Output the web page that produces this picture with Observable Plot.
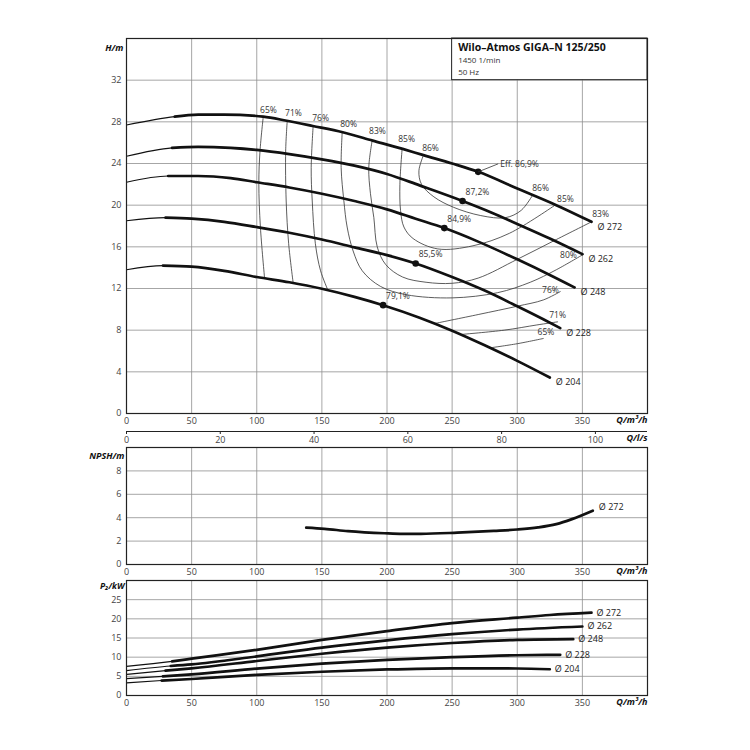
<!DOCTYPE html>
<html><head><meta charset="utf-8">
<script src="https://cdn.jsdelivr.net/npm/d3@7"></script>
<script src="https://cdn.jsdelivr.net/npm/@observablehq/plot@0.6"></script>
<style>
body{margin:0;background:#fff;}
#wrap{position:relative;width:750px;height:750px;font-family:"Open Sans",sans-serif;}
#wrap svg{position:absolute;left:0;overflow:visible;}
</style></head><body><div id="wrap"></div>
<script>
// ---------- DATA ----------
const diameters = [272, 262, 248, 228, 204];
// H-Q curves (Q in m3/h, H in m)
const hqQ272 = [0, 37, 55, 75, 105, 123, 143, 166, 189, 212, 228, 250, 270, 300, 330, 357];
const hqH272 = [27.7, 28.5, 28.7, 28.7, 28.5, 28.1, 27.6, 27.0, 26.2, 25.4, 24.8, 24.0, 23.2, 21.6, 20.0, 18.4];
const hqQ262 = [0, 35, 55, 80, 100, 125, 150, 175, 200, 225, 258, 280, 300, 325, 350];
const hqH262 = [24.7, 25.5, 25.6, 25.5, 25.3, 24.9, 24.4, 23.8, 23.0, 21.9, 20.4, 19.3, 18.2, 16.8, 15.3];
const hqQ248 = [0, 32, 55, 80, 100, 125, 150, 175, 200, 222, 244, 270, 300, 325, 344];
const hqH248 = [22.2, 22.8, 22.8, 22.6, 22.2, 21.7, 21.1, 20.4, 19.6, 18.7, 17.8, 16.5, 14.8, 13.3, 12.1];
const hqQ228 = [0, 30, 50, 75, 100, 125, 150, 175, 200, 222, 250, 275, 300, 320, 333];
const hqH228 = [18.5, 18.8, 18.7, 18.4, 17.9, 17.35, 16.7, 15.95, 15.2, 14.4, 13.1, 11.8, 10.3, 9.05, 8.2];
const hqQ204 = [0, 28, 50, 75, 100, 125, 150, 175, 197, 225, 250, 275, 300, 325];
const hqH204 = [13.8, 14.2, 14.1, 13.7, 13.1, 12.6, 11.98, 11.2, 10.4, 9.2, 7.95, 6.55, 5.05, 3.45];
const hqThickFrom = [37, 35, 32, 30, 28];

// best efficiency points
const bepQ = [270, 258, 244, 222, 197];
const bepH = [23.2, 20.4, 17.8, 14.4, 10.4];
const bepText = ["Eff. 86,9%", "87,2%", "84,9%", "85,5%", "79,1%"];

// iso-efficiency lines [Q, H]
const iso65a = [[105,28.5],[102.5,25.2],[101.6,22.1],[102.8,17.9],[106,13.0]];
const iso65b = [[279,6.3],[300,6.7],[320,7.2]];
const iso71a = [[123.4,28.1],[122.2,25.2],[122.6,20.4],[124.5,16.3],[128,12.5]];
const iso71b = [[258,7.6],[290,8.0],[315,8.5],[331,8.8]];
const iso76a = [[143.3,27.6],[141.8,23.6],[142.6,20.4],[145,16.3],[149,13.7],[154.6,11.85]];
const iso76b = [[237,8.65],[270,9.5],[300,10.3],[320,10.9],[333,11.7]];
const iso80 = [[165.6,27.0],[164.8,23.6],[166.9,20.4],[169.4,17.9],[174,15.6],[181,13.7],[195,12.2],[215,11.4],[250,11.1],[285,11.6],[310,12.6],[330,13.8],[351,15.3]];
const iso83 = [[188.6,26.2],[186,23.6],[187.3,21.1],[189.9,18.8],[192.5,16.0],[199,14.3],[212,13.1],[230,12.6],[250,12.5],[270,13.0],[300,14.8],[330,16.7],[357,18.4]];
const iso85 = [[211.6,25.4],[209.9,22.0],[210.4,19.5],[213,17.9],[220,16.8],[239,15.8],[266,16.1],[294,17.3],[329,20.0]];
const iso86 = [[228,24.8],[224.5,23.3],[226.5,22.0],[236,20.8],[251,19.8],[272,19.0],[291,18.8],[303,19.5],[312,21.0]];
const isoLabels = [
  ["65%",109,29.1],["71%",128.2,28.8],["76%",149,28.3],["80%",170.5,27.8],["83%",192.7,27.1],["85%",215,26.3],["86%",233.4,25.5],
  ["86%",317.9,21.6],["85%",337,20.6],["83%",364,19.1],["80%",339.3,15.2],["76%",325.5,11.8],["71%",331,9.4],["65%",322,7.8]
];

// NPSH (Ø 272)
const npshQ = [138, 152, 170, 198, 212, 226, 254, 282, 300, 316, 330, 342, 358];
const npshH = [3.15, 3.05, 2.85, 2.67, 2.62, 2.62, 2.72, 2.87, 2.99, 3.17, 3.45, 3.88, 4.6];

// Power P2 (kW)
const pQ272 = [0, 35, 50, 100, 150, 200, 250, 300, 325, 357];
const pP272 = [7.6, 8.9, 9.6, 11.9, 14.5, 16.8, 18.9, 20.3, 21.0, 21.6];
const pQ262 = [0, 34, 50, 100, 150, 200, 250, 300, 350];
const pP262 = [6.5, 7.7, 8.1, 10.2, 12.5, 14.4, 16.0, 17.2, 18.0];
const pQ248 = [0, 30, 50, 100, 150, 200, 250, 300, 343];
const pP248 = [5.5, 6.5, 7.1, 9.0, 10.9, 12.5, 13.7, 14.5, 14.7];
const pQ228 = [0, 28, 50, 100, 150, 200, 250, 300, 333];
const pP228 = [4.4, 5.0, 5.5, 7.0, 8.3, 9.3, 10.0, 10.5, 10.6];
const pQ204 = [0, 27, 50, 100, 150, 200, 250, 300, 325];
const pP204 = [3.3, 3.9, 4.3, 5.4, 6.2, 6.8, 7.1, 7.05, 6.85];
const pThickFrom = [35, 34, 30, 28, 27];

// ticks & texts
const xTicks = [0, 50, 100, 150, 200, 250, 300, 350];
const hTicks = [0, 4, 8, 12, 16, 20, 24, 28, 32];
const npshTicks = [0, 2, 4, 6, 8];
const pTicks = [0, 5, 10, 15, 20, 25];
const lsTicks = [0, 20, 40, 60, 80, 100];
const titleLines = ["Wilo–Atmos GIGA–N 125/250", "1450 1/min", "50 Hz"];

// ---------- BUILD ----------
const FONT = "Open Sans";
const GRID = "#8f8f8f";
const INK = "#111";
const wrap = document.getElementById("wrap");
function place(svg, top) { svg.style.position = "absolute"; svg.style.top = top + "px"; svg.style.left = "0px"; wrap.appendChild(svg); }

const hqSets = [[hqQ272, hqH272], [hqQ262, hqH262], [hqQ248, hqH248], [hqQ228, hqH228], [hqQ204, hqH204]];
const hqRows = hqSets.flatMap(([qs, hs], i) => qs.map((q, j) => ({d: diameters[i], q, h: hs[j], thick: q >= hqThickFrom[i]})));
const hqEnds = hqSets.map(([qs, hs], i) => ({d: diameters[i], q: qs[qs.length - 1], h: hs[hs.length - 1]}));
const isoSets = {iso65a, iso65b, iso71a, iso71b, iso76a, iso76b, iso80, iso83, iso85, iso86};
const isoRows = Object.entries(isoSets).flatMap(([id, pts]) => pts.map(([q, h]) => ({id, q, h})));
const bep = bepQ.map((q, i) => ({q, h: bepH[i], t: bepText[i]}));
const isoLab = isoLabels.map(([t, q, h]) => ({t, q, h}));

const pSets = [[pQ272, pP272], [pQ262, pP262], [pQ248, pP248], [pQ228, pP228], [pQ204, pP204]];
const pRows = pSets.flatMap(([qs, ps], i) => qs.map((q, j) => ({d: diameters[i], q, p: ps[j], thick: q >= pThickFrom[i]})));
const pEnds = pSets.map(([qs, ps], i) => ({d: diameters[i], q: qs[qs.length - 1], p: ps[ps.length - 1]}));
const npshRows = npshQ.map((q, i) => ({q, h: npshH[i]}));

const common = {
  width: 750, marginLeft: 126, marginRight: 103,
  x: {domain: [0, 400]},
  style: {fontFamily: FONT, fontSize: "9px", color: "#333", background: "transparent", overflow: "visible"}
};
const axisLbl = {fontWeight: "bold", fontStyle: "italic", fontSize: 9, fill: "#111"};
const tickStyle = {tickSize: 0, fontSize: 9, fill: "#444", label: null};

// Main H-Q chart
const main = Plot.plot({
  ...common, height: 428, marginTop: 38, marginBottom: 15,
  y: {domain: [0, 36]},
  marks: [
    Plot.ruleX(xTicks.slice(1), {stroke: GRID, strokeWidth: 0.8}),
    Plot.ruleY(hTicks.slice(1), {stroke: GRID, strokeWidth: 0.8}),
    Plot.rect([titleLines], {x1: 250, x2: 400, y1: 32, y2: 36, fill: "white", stroke: "#222", strokeWidth: 1}),
    Plot.text([titleLines[0]], {text: d => d, x: 250, y: 36, dx: 6, dy: 9, textAnchor: "start", fontWeight: "bold", fontSize: 10.5, fill: "#111"}),
    Plot.text([titleLines[1]], {text: d => d, x: 250, y: 36, dx: 6, dy: 22, textAnchor: "start", fontSize: 8, fill: "#333"}),
    Plot.text([titleLines[2]], {text: d => d, x: 250, y: 36, dx: 6, dy: 34, textAnchor: "start", fontSize: 8, fill: "#333"}),
    Plot.line(isoRows, {x: "q", y: "h", z: "id", curve: "catmull-rom", stroke: "#333", strokeWidth: 0.8}),
    Plot.line(hqRows, {x: "q", y: "h", z: "d", curve: "monotone-x", stroke: INK, strokeWidth: 1.1}),
    Plot.line(hqRows.filter(r => r.thick), {x: "q", y: "h", z: "d", curve: "monotone-x", stroke: INK, strokeWidth: 2.7}),
    Plot.dot(bep, {x: "q", y: "h", r: 3.3, fill: INK}),
    Plot.link(bep.slice(0, 1), {x1: "q", y1: "h", x2: "q", y2: "h", stroke: "#333", strokeWidth: 0.8, render: (i, s, v, d, c, next) => {
      const g = next(i, s, v, d, c);
      g.querySelectorAll("path").forEach(p => { const x = s.x(bep[0].q), y = s.y(bep[0].h); p.setAttribute("d", `M${x},${y}L${x + 20},${y - 8}`); });
      return g; }}),
    Plot.text(bep.slice(0, 1), {x: "q", y: "h", text: "t", dx: 22, dy: -8, textAnchor: "start", fontSize: 8.5, fill: "#333"}),
    Plot.text(bep.slice(1), {x: "q", y: "h", text: "t", dx: 3, dy: -9, textAnchor: "start", fontSize: 8.5, fill: "#333"}),
    Plot.text(isoLab, {x: "q", y: "h", text: "t", fontSize: 8.5, fill: "#333"}),
    Plot.text(hqEnds, {x: "q", y: "h", text: d => "Ø " + d.d, dx: 6, dy: 5, textAnchor: "start", fontSize: 9, fill: "#222"}),
    Plot.frame({stroke: "#222", strokeWidth: 1.2}),
    Plot.axisX(xTicks, {...tickStyle, tickPadding: 4}),
    Plot.axisY(hTicks, {...tickStyle, tickPadding: 5}),
    Plot.text(["H/m"], {text: d => d, frameAnchor: "top-left", dx: -3, dy: 6, textAnchor: "end", ...axisLbl}),
    Plot.text(["Q/m³/h"], {text: d => d, frameAnchor: "bottom-right", dy: 9, textAnchor: "end", ...axisLbl})
  ]
});
place(main, 0);

// Secondary Q axis in l/s
const ls = Plot.plot({
  ...common, height: 26, marginTop: 0, marginBottom: 20,
  y: {domain: [0, 1], axis: null},
  marks: [
    Plot.ruleY([0], {stroke: "#222", strokeWidth: 1.2}),
    Plot.axisX(lsTicks.map(v => v * 3.6), {tickSize: 3, tickPadding: 2, tickFormat: d => String(Math.round(d / 3.6)), fontSize: 9, fill: "#444", stroke: "#222", label: null}),
    Plot.text(["Q/l/s"], {text: d => d, frameAnchor: "bottom-right", dy: 9, textAnchor: "end", ...axisLbl})
  ]
});
place(ls, 425);

// NPSH chart
const npsh = Plot.plot({
  ...common, height: 139, marginTop: 7, marginBottom: 15,
  y: {domain: [0, 10]},
  marks: [
    Plot.ruleX(xTicks.slice(1), {stroke: GRID, strokeWidth: 0.8}),
    Plot.ruleY(npshTicks.slice(1), {stroke: GRID, strokeWidth: 0.8}),
    Plot.line(npshRows, {x: "q", y: "h", curve: "monotone-x", stroke: INK, strokeWidth: 2.7}),
    Plot.text(npshRows.slice(-1), {x: "q", y: "h", text: () => "Ø " + diameters[0], dx: 6, dy: -4, textAnchor: "start", fontSize: 9, fill: "#222"}),
    Plot.frame({stroke: "#222", strokeWidth: 1.2}),
    Plot.axisX(xTicks, {...tickStyle, tickPadding: 4}),
    Plot.axisY(npshTicks, {...tickStyle, tickPadding: 5}),
    Plot.text(["NPSH/m"], {text: d => d, frameAnchor: "top-left", dx: -2, dy: 5, textAnchor: "end", ...axisLbl}),
    Plot.text(["Q/m³/h"], {text: d => d, frameAnchor: "bottom-right", dy: 9, textAnchor: "end", ...axisLbl})
  ]
});
place(npsh, 440);

// Power chart
const power = Plot.plot({
  ...common, height: 140, marginTop: 8, marginBottom: 17,
  y: {domain: [0, 30]},
  marks: [
    Plot.ruleX(xTicks.slice(1), {stroke: GRID, strokeWidth: 0.8}),
    Plot.ruleY(pTicks.slice(1), {stroke: GRID, strokeWidth: 0.8}),
    Plot.line(pRows, {x: "q", y: "p", z: "d", curve: "monotone-x", stroke: INK, strokeWidth: 1.1}),
    Plot.line(pRows.filter(r => r.thick), {x: "q", y: "p", z: "d", curve: "monotone-x", stroke: INK, strokeWidth: 2.7}),
    Plot.text(pEnds, {x: "q", y: "p", text: d => "Ø " + d.d, dx: 5, dy: 0, textAnchor: "start", fontSize: 9, fill: "#222"}),
    Plot.frame({stroke: "#222", strokeWidth: 1.2}),
    Plot.axisX(xTicks, {...tickStyle, tickPadding: 4}),
    Plot.axisY(pTicks, {...tickStyle, tickPadding: 5}),
    Plot.text(["P₂/kW"], {text: d => d, frameAnchor: "top-left", dx: -2, dy: 2, textAnchor: "end", ...axisLbl, fontSize: 8.5}),
    Plot.text(["Q/m³/h"], {text: d => d, frameAnchor: "bottom-right", dy: 9, textAnchor: "end", ...axisLbl})
  ]
});
place(power, 572);
</script></body></html>
